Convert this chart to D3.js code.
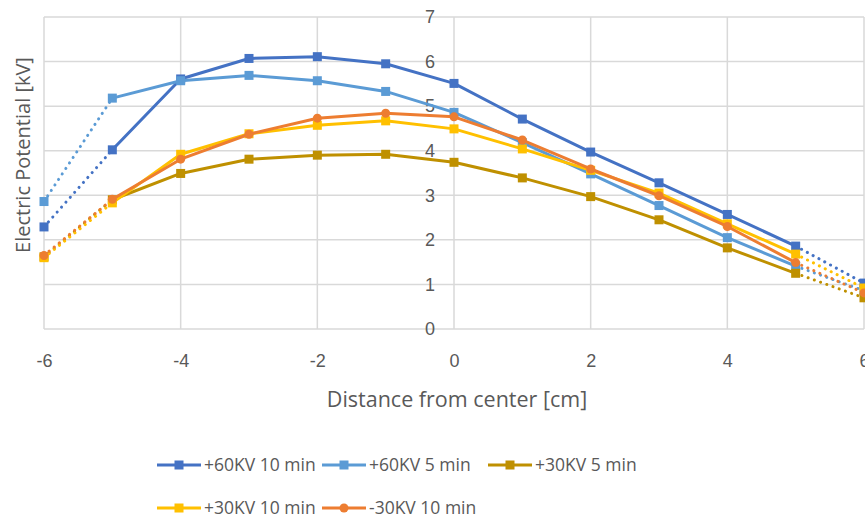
<!DOCTYPE html>
<html>
<head>
<meta charset="utf-8">
<script src="https://cdn.jsdelivr.net/npm/d3@7"></script>
<style>
  html, body { margin: 0; padding: 0; background: #fff; }
  svg { display: block; font-family: "Open Sans", "Noto Sans", sans-serif; }
</style>
</head>
<body>
<svg id="chart" width="865" height="521"></svg>
<script>
// Distance from center [cm]
const distances = [-6, -5, -4, -3, -2, -1, 0, 1, 2, 3, 4, 5, 6];

// Electric potential [kV] per measurement run
const pos60kv10min = [2.29, 4.02, 5.61, 6.07, 6.11, 5.95, 5.51, 4.71, 3.97, 3.28, 2.57, 1.86, 1.03];
const pos60kv5min  = [2.86, 5.18, 5.57, 5.69, 5.57, 5.33, 4.86, 4.18, 3.48, 2.77, 2.05, 1.41, 0.86];
const pos30kv5min  = [1.62, 2.90, 3.49, 3.81, 3.90, 3.92, 3.74, 3.39, 2.97, 2.45, 1.82, 1.25, 0.70];
const pos30kv10min = [1.60, 2.83, 3.92, 4.38, 4.57, 4.67, 4.49, 4.04, 3.56, 3.05, 2.36, 1.68, 0.92];
const neg30kv10min = [1.65, 2.91, 3.81, 4.37, 4.73, 4.84, 4.76, 4.24, 3.59, 2.99, 2.30, 1.49, 0.81];

const seriesNames  = ["+60KV 10 min", "+60KV 5 min", "+30KV 5 min", "+30KV 10 min", "-30KV 10 min"];
const seriesColors = ["#4472C4", "#5B9BD5", "#BF9000", "#FFC000", "#ED7D31"];
const seriesMarks  = ["square", "square", "square", "square", "circle"];

const xTicks = [-6, -4, -2, 0, 2, 4, 6];
const yTicks = [0, 1, 2, 3, 4, 5, 6, 7];

const series = [pos60kv10min, pos60kv5min, pos30kv5min, pos30kv10min, neg30kv10min].map((vals, i) => ({
  name: seriesNames[i],
  color: seriesColors[i],
  mark: seriesMarks[i],
  points: vals.map((v, j) => ({ x: distances[j], y: v }))
}));

const svg = d3.select("#chart");
const x = d3.scaleLinear().domain([-6, 6]).range([44, 864]);
const y = d3.scaleLinear().domain([0, 7]).range([329, 17]);

const gridColor = "#d9d9d9";
const textColor = "#595959";
const plainNumber = d => String(d);   // hyphen-minus, as in the spreadsheet labels

// Gridlines
const grid = svg.append("g");
grid.selectAll("line.h").data(yTicks).join("line")
  .attr("x1", x(-6)).attr("x2", x(6))
  .attr("y1", d => y(d)).attr("y2", d => y(d))
  .attr("stroke", gridColor).attr("stroke-width", 1.5);
grid.selectAll("line.v").data(xTicks).join("line")
  .attr("y1", y(0)).attr("y2", y(7))
  .attr("x1", d => x(d)).attr("x2", d => x(d))
  .attr("stroke", gridColor).attr("stroke-width", 1.5);

// X axis labels along the bottom
const xAxis = d3.axisBottom(x).tickValues(xTicks).tickSize(0).tickPadding(25).tickFormat(plainNumber);
const gx = svg.append("g").attr("transform", `translate(0,${y(0)})`).call(xAxis);
gx.select(".domain").remove();
gx.selectAll("text").attr("fill", textColor).style("font-size", "18px");

// Y axis labels next to the axis crossing at x = 0
const yAxis = d3.axisLeft(y).tickValues(yTicks).tickSize(0).tickPadding(19).tickFormat(plainNumber);
const gy = svg.append("g").attr("transform", `translate(${x(0)},0)`).call(yAxis);
gy.select(".domain").remove();
gy.selectAll("text").attr("fill", textColor).style("font-size", "18px");

// Axis titles
svg.append("text")
  .attr("x", 457).attr("y", 407)
  .attr("text-anchor", "middle")
  .attr("fill", textColor).style("font-size", "21.5px")
  .text("Distance from center [cm]");
svg.append("text")
  .attr("transform", `translate(30,155) rotate(-90)`)
  .attr("text-anchor", "middle")
  .attr("fill", textColor).style("font-size", "20px")
  .text("Electric Potential [kV]");

// Series: solid inner segment, dotted outer segments
const line = d3.line().x(d => x(d.x)).y(d => y(d.y));
const plot = svg.append("g");
series.forEach(s => {
  const g = plot.append("g");
  const inner = s.points.filter(p => p.x >= -5 && p.x <= 5);
  const left = s.points.filter(p => p.x <= -5);
  const right = s.points.filter(p => p.x >= 5);
  [left, right].forEach(seg => {
    g.append("path").attr("d", line(seg))
      .attr("fill", "none").attr("stroke", s.color)
      .attr("stroke-width", 3).attr("stroke-linecap", "round")
      .attr("stroke-dasharray", "0.1 6.5");
  });
  g.append("path").attr("d", line(inner))
    .attr("fill", "none").attr("stroke", s.color)
    .attr("stroke-width", 3).attr("stroke-linejoin", "round");
  if (s.mark === "circle") {
    g.selectAll("circle").data(s.points).join("circle")
      .attr("cx", d => x(d.x)).attr("cy", d => y(d.y)).attr("r", 4.5)
      .attr("fill", s.color);
  } else {
    g.selectAll("rect").data(s.points).join("rect")
      .attr("x", d => x(d.x) - 4.5).attr("y", d => y(d.y) - 4.5)
      .attr("width", 9).attr("height", 9)
      .attr("fill", s.color);
  }
});

// Legend
const legendPos = [[157, 465], [322, 465], [488, 465], [157, 508], [322, 508]];
const legend = svg.append("g");
series.forEach((s, i) => {
  const [lx, ly] = legendPos[i];
  const g = legend.append("g").attr("transform", `translate(${lx},${ly})`);
  g.append("line").attr("x1", 0).attr("x2", 44).attr("y1", 0).attr("y2", 0)
    .attr("stroke", s.color).attr("stroke-width", 3);
  if (s.mark === "circle") {
    g.append("circle").attr("cx", 22).attr("cy", 0).attr("r", 4.5).attr("fill", s.color);
  } else {
    g.append("rect").attr("x", 17.5).attr("y", -4.5).attr("width", 9).attr("height", 9).attr("fill", s.color);
  }
  g.append("text").attr("x", 47).attr("y", 0).attr("dy", "0.35em")
    .attr("fill", textColor).style("font-size", "17.5px")
    .text(s.name);
});
</script>
</body>
</html>
